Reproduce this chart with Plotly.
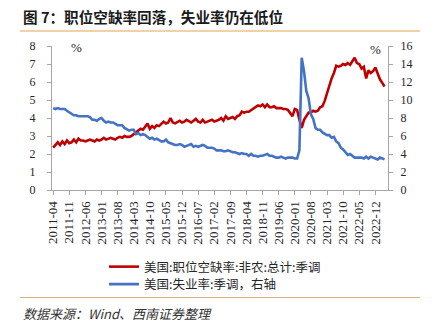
import pandas as pd
import plotly.graph_objects as go

# Monthly categories, 2011-04 .. 2023-04 (axis runs one slot further to 2023-05)
months = [p.strftime("%Y-%m") for p in pd.period_range("2011-04", "2023-04", freq="M")]
tick_months = months[::7]

# US job openings rate, total nonfarm, seasonally adjusted (%)
openings_rate = [
    2.35, 2.5, 2.65, 2.5, 2.7, 2.55, 2.75, 2.6, 2.65,                    # 2011
    2.8, 2.65, 2.85, 2.75, 2.75, 2.7, 2.75, 2.8, 2.75, 2.7, 2.8, 2.75,   # 2012
    2.8, 2.9, 2.8, 2.85, 2.9, 2.85, 2.8, 2.9, 2.95, 2.9, 3.0, 2.95,      # 2013
    2.95, 3.0, 3.1, 3.25, 3.3, 3.4, 3.35, 3.5, 3.7, 3.4, 3.55, 3.45,     # 2014
    3.6, 3.55, 3.7, 3.8, 3.7, 3.75, 4.0, 3.75, 3.7, 3.8, 3.85, 3.75,     # 2015
    3.8, 3.9, 3.8, 3.75, 3.85, 3.95, 3.8, 3.75, 3.9, 3.75, 3.8, 3.85,    # 2016
    3.9, 3.8, 3.85, 3.9, 4.0, 3.85, 4.1, 3.95, 4.0, 4.05, 3.95, 4.1,     # 2017
    4.15, 4.35, 4.3, 4.35, 4.35, 4.45, 4.5, 4.6, 4.7, 4.65, 4.75, 4.6,   # 2018
    4.75, 4.6, 4.6, 4.65, 4.55, 4.55, 4.55, 4.5, 4.5, 4.45, 4.3, 4.1,    # 2019
    4.5, 4.45, 3.9, 3.45, 3.9, 4.1, 4.3, 4.3, 4.4, 4.35, 4.4, 4.6,       # 2020
    4.65, 4.95, 5.4, 5.85, 6.2, 6.5, 6.9, 6.85, 6.9, 7.0, 6.95, 7.05,    # 2021
    6.95, 7.15, 7.35, 7.05, 7.0, 6.75, 6.85, 6.2, 6.65, 6.5, 6.6, 6.8,   # 2022
    6.45, 6.15, 5.95, 5.75,                                              # 2023
]

# US unemployment rate, seasonally adjusted (%), right axis
unemployment_rate = [
    9.1, 9.0, 9.1, 9.0, 9.0, 9.0, 8.8, 8.6, 8.5,                         # 2011
    8.3, 8.3, 8.2, 8.2, 8.2, 8.2, 8.2, 8.1, 7.8, 7.8, 7.7, 7.9,          # 2012
    8.0, 7.7, 7.5, 7.6, 7.5, 7.5, 7.3, 7.2, 7.2, 7.2, 6.9, 6.7,          # 2013
    6.6, 6.7, 6.7, 6.2, 6.3, 6.1, 6.2, 6.1, 5.9, 5.7, 5.8, 5.6,          # 2014
    5.7, 5.5, 5.4, 5.4, 5.6, 5.3, 5.2, 5.1, 5.0, 5.0, 5.1, 5.0,          # 2015
    4.8, 4.9, 5.0, 5.1, 4.8, 4.9, 4.8, 4.9, 5.0, 4.9, 4.7, 4.7,          # 2016
    4.7, 4.6, 4.4, 4.4, 4.4, 4.3, 4.3, 4.4, 4.3, 4.2, 4.2, 4.1,          # 2017
    4.0, 4.1, 4.0, 4.0, 3.8, 4.0, 3.8, 3.8, 3.7, 3.8, 3.8, 3.9,          # 2018
    4.0, 3.8, 3.8, 3.7, 3.6, 3.6, 3.7, 3.6, 3.5, 3.6, 3.6, 3.6,          # 2019
    3.5, 3.5, 4.4, 14.7, 13.2, 11.0, 10.2, 8.4, 7.9, 6.9, 6.7, 6.7,      # 2020
    6.4, 6.2, 6.1, 6.1, 5.8, 5.9, 5.4, 5.2, 4.7, 4.5, 4.2, 3.9,          # 2021
    4.0, 3.8, 3.6, 3.6, 3.6, 3.6, 3.5, 3.7, 3.5, 3.7, 3.6, 3.5,          # 2022
    3.4, 3.6, 3.5, 3.4,                                                  # 2023
]

W, H = 435, 326
ML, MR, MT, MB = 52, 47, 46, 136
PW, PH = W - ML - MR, H - MT - MB


def px_x(x):
    return (x - ML) / PW


def px_y(y):
    return (H - MB - y) / PH


SERIF = "Liberation Serif, DejaVu Serif, serif"
CJK = "Noto Sans CJK SC, sans-serif"
AXIS_GREY = "#A6A6A6"
TEXT = "#262626"

fig = go.Figure()
fig.add_trace(go.Scatter(
    x=months, y=openings_rate, mode="lines", yaxis="y", legend="legend",
    name="美国:职位空缺率:非农:总计:季调",
    line=dict(color="#C00000", width=2.6),
))
fig.add_trace(go.Scatter(
    x=months, y=unemployment_rate, mode="lines", yaxis="y2", legend="legend2",
    name="美国:失业率:季调，右轴",
    line=dict(color="#4472C4", width=2.6),
))

legend_style = dict(
    xref="paper", yref="paper", xanchor="left", yanchor="top",
    font=dict(family=CJK, size=12.5, color=TEXT),
    bgcolor="rgba(0,0,0,0)", borderwidth=0, itemwidth=30,
)

fig.update_layout(
    width=W, height=H,
    margin=dict(l=ML, r=MR, t=MT, b=MB, pad=0, autoexpand=False),
    paper_bgcolor="white", plot_bgcolor="white",
    showlegend=True,
    legend=dict(x=px_x(104), y=px_y(252), **legend_style),
    legend2=dict(x=px_x(104), y=px_y(269.5), **legend_style),
    xaxis=dict(
        type="category", categoryorder="array", categoryarray=months,
        range=[-0.5, len(months) + 0.5],
        tickmode="array", tickvals=tick_months, ticktext=tick_months,
        tickangle=-90, ticks="outside", ticklen=4, tickcolor=AXIS_GREY,
        showline=True, linecolor=AXIS_GREY, linewidth=1,
        showgrid=False, zeroline=False,
        tickfont=dict(family=SERIF, size=13, color=TEXT),
        ticklabelstandoff=1,
    ),
    yaxis=dict(
        range=[0, 8], dtick=1, tick0=0,
        ticks="outside", ticklen=4, tickcolor=AXIS_GREY,
        showline=True, linecolor=AXIS_GREY, linewidth=1,
        showgrid=False, zeroline=False,
        tickfont=dict(family=SERIF, size=12, color=TEXT),
        ticklabelstandoff=9,
    ),
    yaxis2=dict(
        range=[0, 16], dtick=2, tick0=0, overlaying="y", side="right",
        ticks="outside", ticklen=4, tickcolor=AXIS_GREY,
        showline=True, linecolor=AXIS_GREY, linewidth=1,
        showgrid=False, zeroline=False,
        tickfont=dict(family=SERIF, size=12, color=TEXT),
        ticklabelstandoff=5,
    ),
    shapes=[
        dict(type="line", xref="paper", yref="paper",
             x0=px_x(20), x1=px_x(420), y0=px_y(31), y1=px_y(31),
             line=dict(color="#E3A652", width=1.2)),
        dict(type="line", xref="paper", yref="paper",
             x0=px_x(20), x1=px_x(420), y0=px_y(297.5), y1=px_y(297.5),
             line=dict(color="#D9B07A", width=1.2)),
    ],
    annotations=[
        dict(text="<b>图 7：职位空缺率回落，失业率仍在低位</b>",
             xref="paper", yref="paper", x=px_x(21), y=px_y(16),
             xanchor="left", yanchor="middle", showarrow=False,
             font=dict(family=CJK, size=14.6, color="#1A1A1A")),
        dict(text="%", xref="paper", yref="paper", x=px_x(76), y=px_y(47),
             xanchor="center", yanchor="middle", showarrow=False,
             font=dict(family=SERIF, size=13, color=TEXT)),
        dict(text="%", xref="paper", yref="paper", x=px_x(375), y=px_y(49),
             xanchor="center", yanchor="middle", showarrow=False,
             font=dict(family=SERIF, size=13, color=TEXT)),
        dict(text="<i>数据来源：Wind、西南证券整理</i>",
             xref="paper", yref="paper", x=px_x(21), y=px_y(313),
             xanchor="left", yanchor="middle", showarrow=False,
             font=dict(family=CJK, size=13, color="#333333")),
    ],
)

fig.write_html("out.html")
